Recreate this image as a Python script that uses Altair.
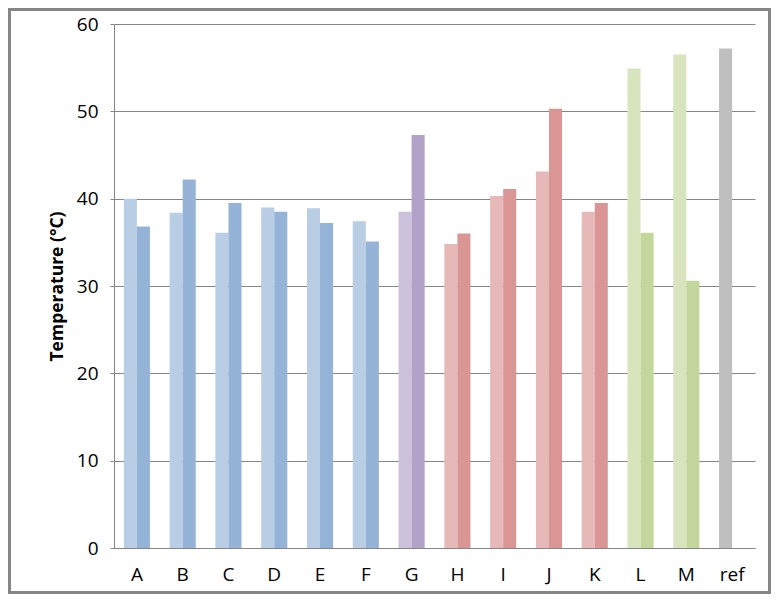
import altair as alt
import pandas as pd

categories = ["A", "B", "C", "D", "E", "F", "G", "H", "I", "J", "K", "L", "M", "ref"]
light_values = [40.0, 38.4, 36.1, 39.0, 38.9, 37.4, 38.5, 34.8, 40.3, 43.1, 38.5, 54.9, 56.5, 57.2]
dark_values = [36.8, 42.2, 39.5, 38.5, 37.2, 35.1, 47.3, 36.0, 41.1, 50.3, 39.5, 36.1, 30.6, None]
light_colors = ["#B9CDE5"] * 6 + ["#CCC1DA"] + ["#E6B9B8"] * 4 + ["#D7E4BD"] * 2 + ["#BFBFBF"]
dark_colors = ["#95B3D7"] * 6 + ["#B3A2C7"] + ["#D99694"] * 4 + ["#C3D69B"] * 2 + [None]
y_ticks = [0, 10, 20, 30, 40, 50, 60]

rows = []
for i, c in enumerate(categories):
    rows.append({"cat": c, "s": "1", "v": light_values[i], "col": light_colors[i]})
    if dark_values[i] is not None:
        rows.append({"cat": c, "s": "2", "v": dark_values[i], "col": dark_colors[i]})
df = pd.DataFrame(rows)

FONT = "Open Sans"
GRAY = "#868686"

bars = alt.Chart(df).mark_bar().encode(
    x=alt.X("cat:N", sort=categories,
            scale=alt.Scale(domain=categories, paddingInner=0.43, paddingOuter=0.215),
            axis=alt.Axis(title=None, labelAngle=0, ticks=False, labelPadding=17,
                          labelFontSize=19, labelColor="black", labelFont=FONT,
                          domainColor=GRAY, domainWidth=1, grid=False)),
    xOffset=alt.XOffset("s:N", scale=alt.Scale(domain=["1", "2"], paddingInner=0, paddingOuter=0)),
    y=alt.Y("v:Q", scale=alt.Scale(domain=[0, 60], nice=False),
            axis=alt.Axis(title="Temperature (°C)", values=y_ticks, labelFontSize=19,
                          labelColor="black", labelFont=FONT, labelPadding=12,
                          tickSize=4, tickColor=GRAY, domainColor=GRAY,
                          gridColor=GRAY, gridWidth=1, grid=True,
                          titleFont=FONT, titleFontSize=17.5, titleFontWeight="bold",
                          titleColor="black", titleAngle=-90, titleAlign="center",
                          titleBaseline="middle", titleX=-57, titleY=262)),
    color=alt.Color("col:N", scale=None, legend=None),
)

frame = alt.Chart(pd.DataFrame({"k": [0]})).mark_rect(
    filled=False, stroke="#868686", strokeWidth=3, clip=False
).encode(
    x=alt.value(-104.5), x2=alt.value(655.5),
    y=alt.value(-14.5), y2=alt.value(568.5),
)

chart = alt.layer(bars, frame).properties(
    width=641, height=524,
    autosize=alt.AutoSizeParams(type="none"),
    padding={"left": 106, "top": 16, "right": 16, "bottom": 46},
    background="white",
    view=alt.ViewBackground(stroke="transparent", strokeWidth=0),
).configure_view(strokeWidth=0, stroke="transparent")

chart.save("out.html", embed_options={"renderer": "svg", "actions": False})
